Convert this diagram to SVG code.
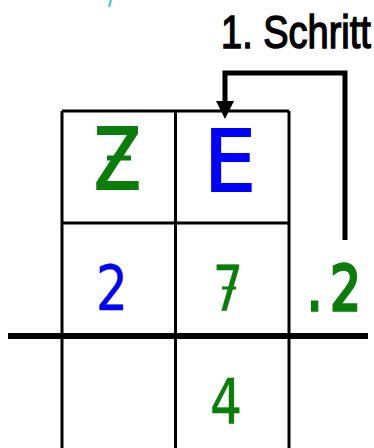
<svg xmlns="http://www.w3.org/2000/svg" width="374" height="448" viewBox="0 0 374 448">
<style>
.grid{stroke:#000;stroke-width:3;fill:none}
.g{fill:#0a7d0a;stroke:#0a7d0a}
.b{fill:#0000ff;stroke:#0000ff}
.t{font-family:"DejaVu Sans",sans-serif}
</style>
<rect width="374" height="448" fill="#fff"/>
<path d="M111,0 L109,7" stroke="#33cccc" stroke-width="2" fill="none"/>
<g id="label">
<text transform="translate(221,48) scale(1,1.22)" x="0" y="0" font-family="Liberation Sans, sans-serif" font-size="38" fill="#000" stroke="#000" stroke-width="1.2">1. Schritt</text>
</g>
<g id="grid">
<path class="grid" d="M62,111 H289 M62,223 H289 M62,111 V448 M175.5,111 V448 M289,111 V448"/>
<path d="M8,336 H368" stroke="#000" stroke-width="6"/>
</g>
<g id="connectors">
<path d="M345,240 V73 H225 V103" stroke="#000" stroke-width="5" fill="none" stroke-linejoin="miter"/>
<polygon points="216,101 234,101 225,119" fill="#000"/>
</g>
<g id="cell-Z">
<text class="t g" x="94" y="189" font-size="85" stroke-width="2" textLength="47" lengthAdjust="spacingAndGlyphs">Z</text>
<path d="M107,158 H131" stroke="#0a7d0a" stroke-width="5"/>
</g>
<g id="cell-E">
<text class="t b" x="204" y="191" font-size="85" stroke-width="2" textLength="52" lengthAdjust="spacingAndGlyphs">E</text>
</g>
<g id="cell-2">
<text class="t b" x="96" y="310" font-size="63" stroke-width="0.5" textLength="32" lengthAdjust="spacingAndGlyphs">2</text>
</g>
<g id="cell-7">
<text class="t g" x="213" y="310" font-size="63" stroke-width="0.5" textLength="30" lengthAdjust="spacingAndGlyphs">7</text>
<path d="M222,288 H236" stroke="#0a7d0a" stroke-width="3"/>
</g>
<g id="cell-dot2">
<text class="t g" transform="translate(307,310) scale(1,1.31)" x="0" y="0" font-size="48" stroke-width="2.5" letter-spacing="8">.2</text>
</g>
<g id="cell-4">
<text class="t g" x="210" y="424" font-size="63" stroke-width="0.5" textLength="32" lengthAdjust="spacingAndGlyphs">4</text>
</g>
</svg>
